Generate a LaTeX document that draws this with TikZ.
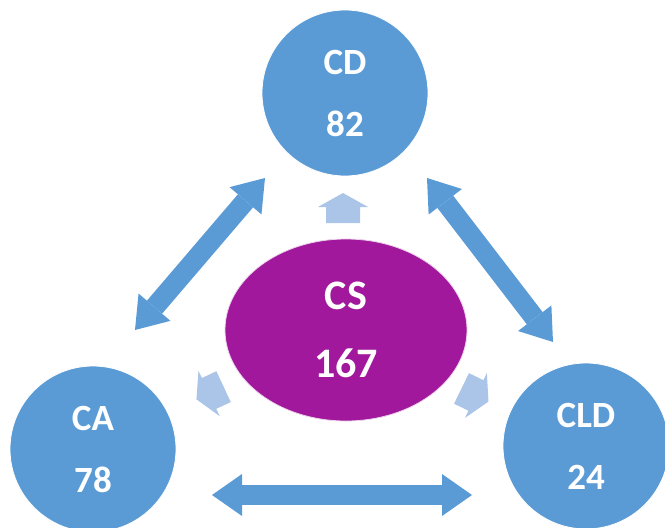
\documentclass[tikz,border=0pt]{standalone}
\usepackage{fontspec}
\setmainfont{Carlito}
\usetikzlibrary{arrows.meta,shapes.geometric}
\definecolor{cblue}{RGB}{91,155,213}
\definecolor{cpurple}{RGB}{161,24,156}
\definecolor{clight}{RGB}{170,197,232}
\tikzset{
  circ/.style={circle,fill=cblue,draw=white,line width=0.8pt,minimum size=166pt,inner sep=0pt,
    text=white,font=\bfseries\fontsize{37}{62}\selectfont,align=center},
  oval/.style={ellipse,fill=cpurple,draw=white!80!cpurple,line width=0.8pt,minimum width=242pt,
    minimum height=182pt,inner sep=0pt,text=white,font=\bfseries\fontsize{42}{68}\selectfont,align=center},
  dbl/.style={cblue,line width=20pt,
    {Triangle[width=42pt,length=30pt,line width=0pt]}-{Triangle[width=42pt,length=30pt,line width=0pt]}},
  pics/smallarrow/.style={code={
    \fill[clight] (-15,-17) -- (1,-17) -- (1,-25) -- (15,0) -- (1,25) -- (1,17) -- (-15,17) -- cycle;}}
}
\begin{document}
\begin{tikzpicture}[x=1pt,y=-1pt]
\useasboundingbox (0,0) rectangle (665,528);
\node[circ] (cd) at (345,93) {CD\\82};
\node[circ] (ca) at (93,449) {CA\\78};
\node[circ] (cld) at (586,446) {CLD\\24};
\node[oval] (cs) at (346,330) {CS\\167};
\coordinate (cdA) at (265,178);
\coordinate (caA) at (135,330);
\coordinate (cdB) at (427,178);
\coordinate (cldB) at (553,342);
\coordinate (caC) at (212,495);
\coordinate (cldC) at (472,495);
\draw[dbl] (cdA) -- (caA);
\draw[dbl] (cdB) -- (cldB);
\draw[dbl] (caC) -- (cldC);
\pic[rotate=90] at (343,208) {smallarrow};
\pic[rotate=205] at (210,393) {smallarrow};
\pic[rotate=-26] at (475,395) {smallarrow};
\end{tikzpicture}
\end{document}
